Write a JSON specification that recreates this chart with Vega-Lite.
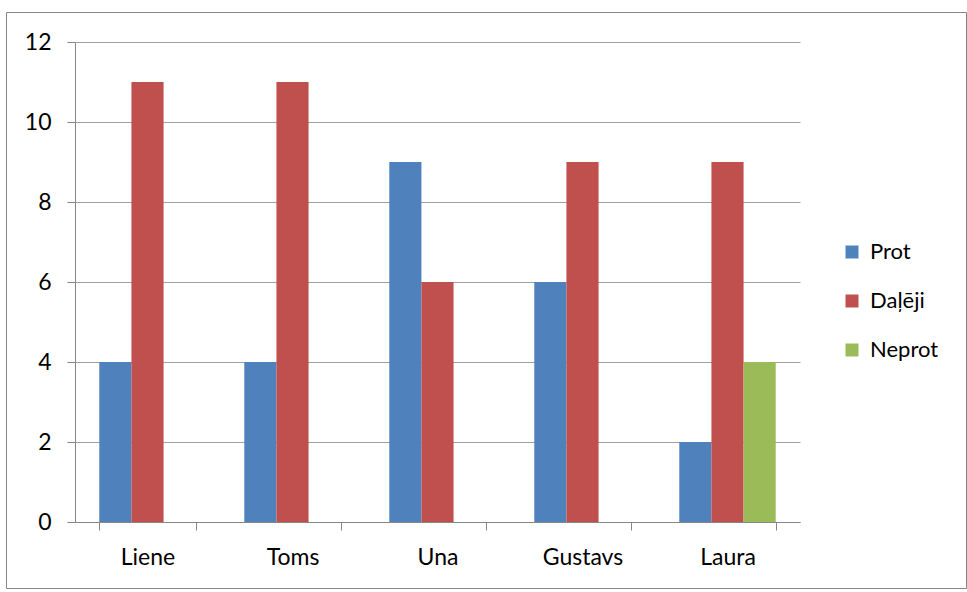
{
  "$schema": "https://vega.github.io/schema/vega-lite/v6.json",
  "width": 725,
  "height": 480,
  "autosize": {"type": "none"},
  "padding": {"left": 75, "top": 42, "right": 167, "bottom": 70},
  "background": "white",
  "data": {
    "values": [
      {"name": "Liene", "series": "Prot", "value": 4},
      {"name": "Liene", "series": "Daļēji", "value": 11},
      {"name": "Toms", "series": "Prot", "value": 4},
      {"name": "Toms", "series": "Daļēji", "value": 11},
      {"name": "Una", "series": "Prot", "value": 9},
      {"name": "Una", "series": "Daļēji", "value": 6},
      {"name": "Gustavs", "series": "Prot", "value": 6},
      {"name": "Gustavs", "series": "Daļēji", "value": 9},
      {"name": "Laura", "series": "Prot", "value": 2},
      {"name": "Laura", "series": "Daļēji", "value": 9},
      {"name": "Laura", "series": "Neprot", "value": 4}
    ]
  },
  "layer": [
    {
      "mark": {"type": "bar"},
      "encoding": {
        "x": {
          "field": "name",
          "type": "nominal",
          "sort": ["Liene", "Toms", "Una", "Gustavs", "Laura"],
          "scale": {"paddingInner": 0.335, "paddingOuter": 0.1675},
          "axis": {
            "title": null,
            "labelAngle": 0,
            "tickBand": "extent",
            "tickSize": 8,
            "labelPadding": 16,
            "labelFontSize": 23,
            "domainColor": "#868686",
            "tickColor": "#868686",
            "grid": false
          }
        },
        "xOffset": {"field": "series", "sort": ["Prot", "Daļēji", "Neprot"]},
        "y": {
          "field": "value",
          "type": "quantitative",
          "scale": {"domain": [0, 12]},
          "axis": {
            "title": null,
            "values": [0, 2, 4, 6, 8, 10, 12],
            "tickSize": 8,
            "labelPadding": 16,
            "labelFontSize": 23,
            "domainColor": "#868686",
            "tickColor": "#868686",
            "gridColor": "#A0A0A0",
            "grid": true
          }
        },
        "color": {
          "field": "series",
          "type": "nominal",
          "sort": ["Prot", "Daļēji", "Neprot"],
          "scale": {"domain": ["Prot", "Daļēji", "Neprot"], "range": ["#4F81BD", "#C0504D", "#9BBB59"]},
          "legend": {
            "title": null,
            "orient": "none",
            "legendX": 766,
            "legendY": 199,
            "symbolType": "square",
            "symbolSize": 169,
            "symbolStrokeWidth": 0,
            "symbolOpacity": 1,
            "labelFontSize": 22,
            "labelOffset": 7,
            "rowPadding": 27
          }
        }
      }
    },
    {
      "mark": {"type": "point", "opacity": 0},
      "encoding": {
        "stroke": {
          "field": "value",
          "type": "quantitative",
          "legend": {
            "title": null,
            "orient": "none",
            "direction": "horizontal",
            "legendX": -69,
            "legendY": -30,
            "gradientLength": 384,
            "gradientThickness": 0,
            "gradientStrokeWidth": 0,
            "labelExpr": "''",
            "labelFontSize": 0,
            "labelOffset": 0,
            "padding": 288,
            "strokeColor": "#868686",
            "fillColor": null
          }
        }
      }
    }
  ],
  "config": {
    "view": {"stroke": null},
    "font": "Lato",
    "axis": {"labelColor": "#000000", "labelFont": "Lato", "domainWidth": 1, "tickWidth": 1, "gridWidth": 1},
    "legend": {"labelColor": "#000000", "labelFont": "Lato"}
  }
}
